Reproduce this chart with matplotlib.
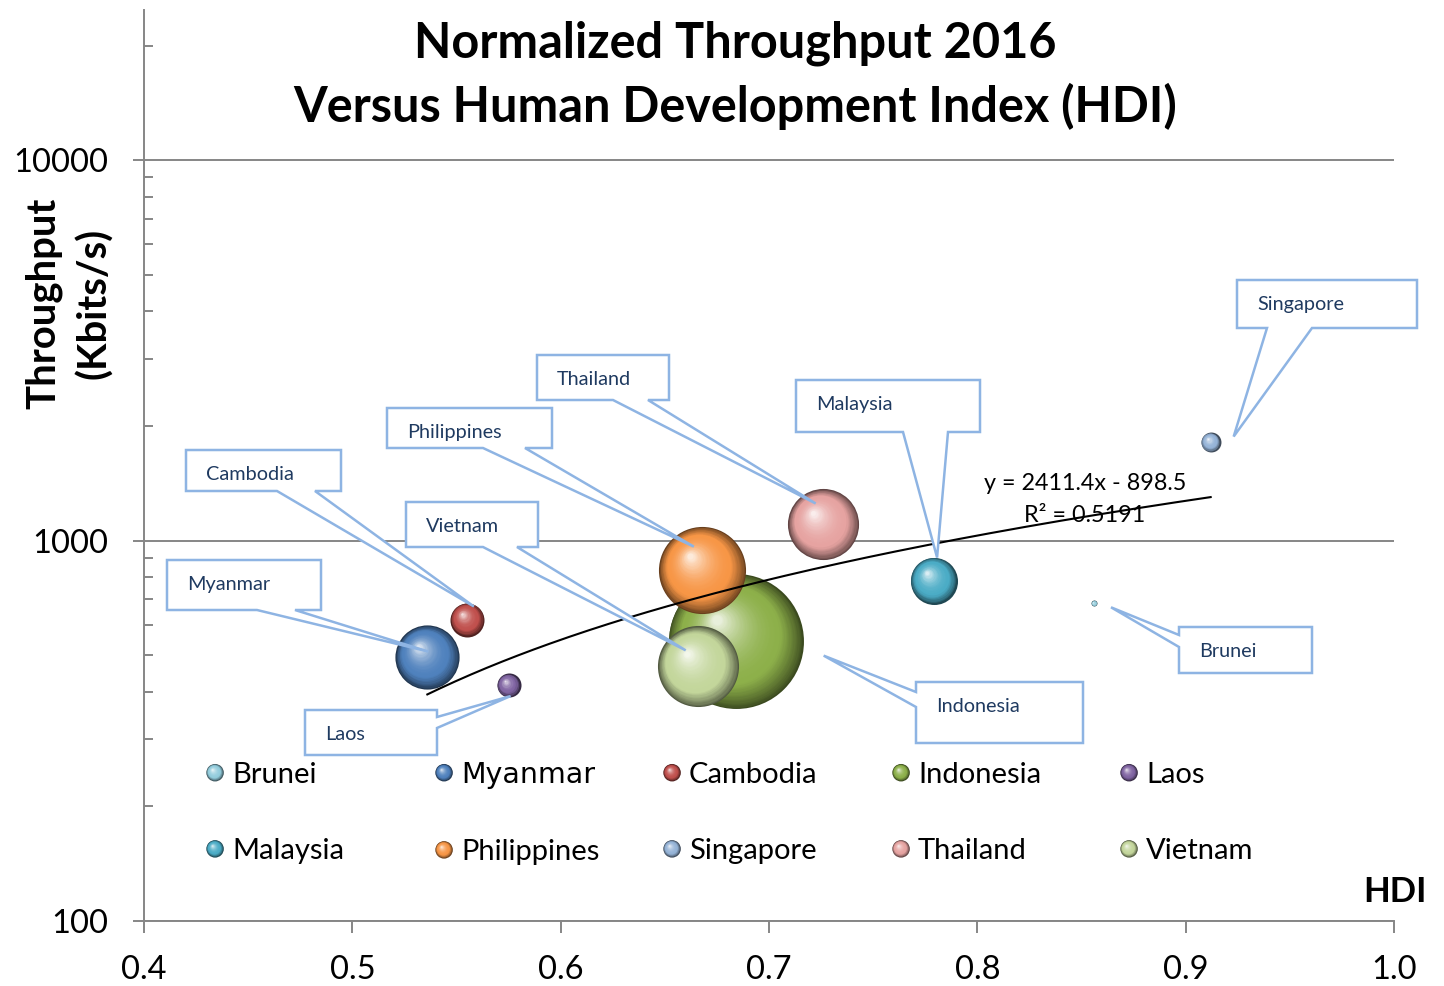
import numpy as np
import matplotlib
matplotlib.use("Agg")
import matplotlib.pyplot as plt
from matplotlib.transforms import ScaledTranslation
from matplotlib.patches import Polygon, Circle
from matplotlib.legend_handler import HandlerBase
from matplotlib.ticker import LogLocator, NullFormatter, FixedLocator

# ---------------- data ----------------
countries = ["Brunei", "Myanmar", "Cambodia", "Indonesia", "Laos",
             "Malaysia", "Philippines", "Singapore", "Thailand", "Vietnam"]
hdi = [0.856, 0.536, 0.555, 0.684, 0.575, 0.779, 0.668, 0.912, 0.726, 0.666]
throughput = [684, 494, 620, 544, 417, 785, 836, 1815, 1102, 467]
population_m = [0.5, 57, 16, 252, 8, 30.6, 105, 5.5, 70, 91]   # bubble size
colors = ["#93CDDD", "#4F81BD", "#C0504D", "#8DB04A", "#8064A2",
          "#4BACC6", "#F79646", "#95B3D7", "#E6A3A1", "#C3D69B"]
trend_slope = 2411.4
trend_intercept = -898.5
trend_r2 = 0.5191
x_ticks = [0.4, 0.5, 0.6, 0.7, 0.8, 0.9, 1.0]
x_ticklabels = ["0.4", "0.5", "0.6", "0.7", "0.8", "0.9", "1.0"]
y_ticks = [100, 1000, 10000]
y_ticklabels = ["100", "1000", "10000"]

# ---------------- layout ----------------
W, H, DPI = 1444, 986, 100
FONT = "Lato"
plt.rcParams["font.family"] = [FONT, "DejaVu Sans"]

def fx(px):
    return px / W

def fy(py):
    return 1 - py / H

fig = plt.figure(figsize=(W / DPI, H / DPI), dpi=DPI)
ax = fig.add_axes([fx(144), fy(921), (1394 - 144) / W, (921 - 10) / H])
ax.set_yscale("log")
ax.set_xlim(0.4, 1.0)
ax.set_ylim(100, 24800)

GRAY = "#868686"
for s in ["top", "right"]:
    ax.spines[s].set_visible(False)
for s in ["left", "bottom"]:
    ax.spines[s].set_color(GRAY)
    ax.spines[s].set_linewidth(1.4)

ax.xaxis.set_major_locator(FixedLocator(x_ticks))
ax.set_xticklabels(x_ticklabels)
ax.yaxis.set_major_locator(FixedLocator(y_ticks))
ax.set_yticklabels(y_ticklabels)
ax.yaxis.set_minor_locator(LogLocator(base=10, subs=np.arange(2, 10)))
ax.yaxis.set_minor_formatter(NullFormatter())
ax.tick_params(axis="y", which="major", direction="out", length=8, width=1.4,
               color=GRAY, pad=18, labelsize=23.5)
ax.tick_params(axis="y", which="minor", direction="in", length=6.5, width=1.4,
               color=GRAY)
ax.tick_params(axis="x", which="major", direction="out", length=8.5, width=1.4,
               color=GRAY, pad=16, labelsize=23.5)
ax.yaxis.grid(True, which="major", color=GRAY, lw=1.4)
ax.set_axisbelow(True)

# ---------------- sphere shading ----------------
def sphere_layers(base, n=18):
    b = np.array(matplotlib.colors.to_rgb(base))
    dark = b * 0.42
    light = b + (1 - b) * 0.8
    out = []
    for k in range(n):
        t = k / (n - 1)
        rf = 1 - 0.93 * t
        if t < 0.28:
            c = dark + (b - dark) * (t / 0.28) ** 0.8
        else:
            c = b + (light - b) * ((t - 0.28) / 0.72) ** 2.0
        out.append((rf, (-0.30 * (1 - rf), 0.34 * (1 - rf)), np.clip(c, 0, 1)))
    return out

PX_PER_SQRT = 4.25
handles = []
for i in range(len(countries)):
    R = PX_PER_SQRT * np.sqrt(population_m[i])   # radius in px
    first = None
    for rf, (ox, oy), c in sphere_layers(colors[i], n=max(10, int(R * 0.9))):
        tr = ax.transData + ScaledTranslation(ox * R / DPI, oy * R / DPI,
                                              fig.dpi_scale_trans)
        sc = ax.scatter([hdi[i]], [throughput[i]], s=(2 * R * rf * 72 / DPI) ** 2,
                        color=[c], linewidths=0, transform=tr, zorder=2)
        if first is None:
            first = sc
    handles.append(first)

# trendline from the displayed equation
xt = np.linspace(min(hdi), max(hdi), 200)
ax.plot(xt, trend_slope * xt + trend_intercept, color="black", lw=1.5, zorder=3)
fig.text(fx(1085), fy(483), f"y = {trend_slope}x - {abs(trend_intercept)}",
         ha="center", va="center", fontsize=16.8)
fig.text(fx(1085), fy(515), f"R² = {trend_r2}", ha="center", va="center",
         fontsize=16.8)

# ---------------- callouts ----------------
# box (x0, y0, x1, y1) in px, pointer edge, base points, tip offset from bubble (px)
callouts = {
    "Cambodia":    ((186, 450, 341, 491), "bottom", (277, 315), (7, -13)),
    "Myanmar":     ((167, 560, 321, 610), "bottom", (257, 295), (1, -5.5)),
    "Laos":        ((305, 710, 437, 755), "right", (717, 728), (2, 11)),
    "Vietnam":     ((406, 502, 538, 547), "bottom", (483, 517), (-12.5, -16)),
    "Philippines": ((387, 408, 552, 448), "bottom", (483, 525), (-8.5, -23.5)),
    "Thailand":    ((537, 355, 669, 400), "bottom", (613, 648), (-7.5, -21)),
    "Malaysia":    ((796, 380, 980, 432), "bottom", (903, 948), (3.5, -23)),
    "Indonesia":   ((916, 682, 1083, 743), "left", (692, 707), (88, 14.5)),
    "Brunei":      ((1179, 627, 1312, 673), "left", (635, 647), (17, 4)),
    "Singapore":   ((1237, 280, 1417, 328), "bottom", (1267, 1312), (23, -5.5)),
}
fig.canvas.draw()
for name, (box, edge, base, toff) in callouts.items():
    i = countries.index(name)
    dx, dy = ax.transData.transform((hdi[i], throughput[i]))
    tipx, tipy = dx + toff[0], (H - dy) + toff[1]
    x0, y0, x1, y1 = box
    b1, b2 = base
    if edge == "bottom":
        pts = [(x0, y0), (x1, y0), (x1, y1), (b2, y1), (tipx, tipy), (b1, y1), (x0, y1)]
    elif edge == "left":
        pts = [(x0, y0), (x1, y0), (x1, y1), (x0, y1), (x0, b2), (tipx, tipy), (x0, b1)]
    else:
        pts = [(x0, y0), (x1, y0), (x1, b1), (tipx, tipy), (x1, b2), (x1, y1), (x0, y1)]
    poly = Polygon([(fx(px), fy(py)) for px, py in pts], closed=True,
                   transform=fig.transFigure, facecolor="white",
                   edgecolor="#8EB4E3", lw=1.8, zorder=5, joinstyle="miter")
    fig.add_artist(poly)
    fig.text(fx(x0 + 20), fy(y0 + 30), name, ha="left", va="baseline",
             fontsize=14.3, color="#1F3A60", zorder=6)

# ---------------- legend ----------------
class SphereHandler(HandlerBase):
    def __init__(self, color):
        super().__init__()
        self.color = color

    def create_artists(self, legend, orig_handle, xdescent, ydescent, width,
                       height, fontsize, trans):
        cx = width / 2 - xdescent
        cy = height / 2 - ydescent
        r = 6.3
        arts = []
        for rf, (ox, oy), c in sphere_layers(self.color, n=12):
            arts.append(Circle((cx + ox * r, cy + oy * r), r * rf, facecolor=c,
                               edgecolor="none", transform=trans))
        return arts

col_x = [215, 444, 672, 901, 1129]
for col in range(5):
    idx = [col, col + 5]
    leg = fig.legend([handles[j] for j in idx], [countries[j] for j in idx],
                     handler_map={handles[j]: SphereHandler(colors[j]) for j in idx},
                     loc="center left", bbox_to_anchor=(fx(col_x[col] - 11), fy(813)),
                     bbox_transform=fig.transFigure, frameon=False, borderpad=0,
                     borderaxespad=0, handlelength=0.76, handletextpad=0.2,
                     labelspacing=1.72, fontsize=21)
    if col == 1:
        t = leg.get_texts()[0]
        t.set_fontfamily("DejaVu Sans")
        t.set_fontsize(20.5)

# ---------------- titles ----------------
fig.text(fx(735), fy(43), "Normalized Throughput 2016", ha="center", va="center",
         fontsize=35, weight="bold")
fig.text(fx(735), fy(106), "Versus Human Development Index (HDI)", ha="center",
         va="center", fontsize=35, weight="bold")
fig.text(fx(69), fy(303), "Throughput\n(Kbits/s)", rotation=90, ha="center",
         va="center", fontsize=28.8, weight="bold", linespacing=1.43)
fig.text(fx(1395), fy(892), "HDI", ha="center", va="center", fontsize=25,
         weight="bold")

fig.savefig("out.png", dpi=DPI)
